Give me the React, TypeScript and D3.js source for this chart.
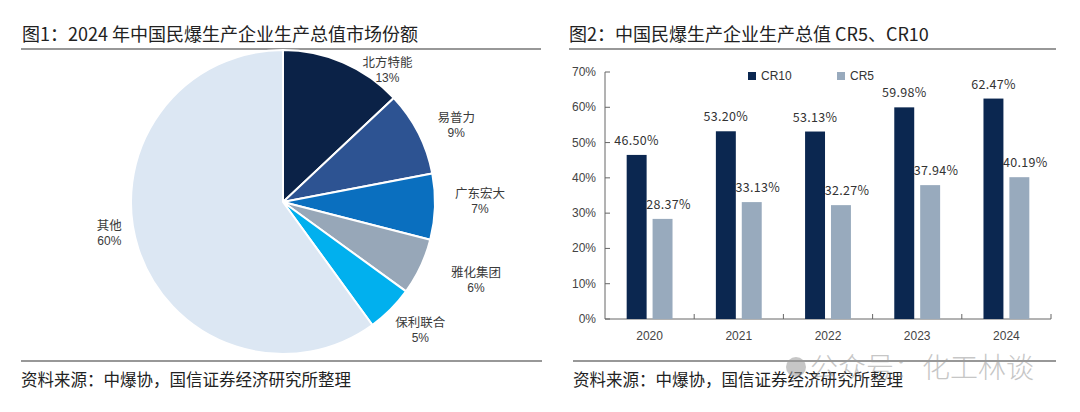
import React from "react";
import * as d3 from "d3";

// ---- Data ----
const pieNames = ["北方特能", "易普力", "广东宏大", "雅化集团", "保利联合", "其他"];
const pieValues = [13, 9, 7, 6, 5, 60];
const pieColors = ["#0b2247", "#2d5392", "#0a6fbf", "#97a7b8", "#01b0ee", "#dce7f3"];
// label nudges (style only)
const pieLabelNudge: [number, number][] = [[29, 39], [4, 6], [7, -10], [21, -6], [3, -9], [7, -31]];

const years = ["2020", "2021", "2022", "2023", "2024"];
const cr10 = [46.5, 53.2, 53.13, 59.98, 62.47];
const cr5 = [28.37, 33.13, 32.27, 37.94, 40.19];
const seriesNames = ["CR10", "CR5"];
const seriesColors = ["#0b2750", "#98aabd"];
const yTicks = [0, 10, 20, 30, 40, 50, 60, 70];

const title1 = "图1：2024 年中国民爆生产企业生产总值市场份额";
const title2 = "图2：中国民爆生产企业生产总值 CR5、CR10";
const source = "资料来源：中爆协，国信证券经济研究所整理";

const CJK = "'Noto Sans CJK SC', 'Noto Sans', sans-serif";
const LAT = "'Liberation Sans', Arial, sans-serif";

export default function App() {
  // Pie
  const cx = 283, cy = 202, r = 152;
  const pie = d3.pie<number>().sort(null).value((d) => d).startAngle(0).endAngle(2 * Math.PI);
  const arcs = pie(pieValues);
  const arc = d3.arc<d3.PieArcDatum<number>>().innerRadius(0).outerRadius(r);
  const labelArc = d3.arc<d3.PieArcDatum<number>>().innerRadius(190).outerRadius(190);

  // Bars
  const x0 = d3.scaleBand<string>().domain(years).range([605, 1051]).paddingInner(0.486).paddingOuter(0.243);
  const x1 = d3.scaleBand<string>().domain(seriesNames).range([0, x0.bandwidth()]).paddingInner(0.23);
  const y = d3.scaleLinear().domain([0, 70]).range([319, 72]);
  const seriesData = [cr10, cr5];
  const step = x0.step();
  const xStart = 605;

  return (
    <svg width={1080} height={412} style={{ position: "absolute", left: 0, top: 0, background: "#fff" }}>
      {/* Titles */}
      <text x={22} y={41} fontFamily={CJK} fontSize={18} fill="#222">{title1}</text>
      <line x1={21} x2={541} y1={49} y2={49} stroke="#333" strokeWidth={1.2} />
      <text x={569} y={41} fontFamily={CJK} fontSize={18} fill="#222">{title2}</text>
      <line x1={569} x2={1056} y1={49} y2={49} stroke="#333" strokeWidth={1.2} />

      {/* Pie */}
      <g transform={`translate(${cx},${cy})`}>
        {arcs.map((a, i) => (
          <path key={i} d={arc(a) || ""} fill={pieColors[i]} stroke="#fff" strokeWidth={2} />
        ))}
        {arcs.map((a, i) => {
          const [lx, ly] = labelArc.centroid(a);
          const px = lx + pieLabelNudge[i][0];
          const py = ly + pieLabelNudge[i][1];
          return (
            <g key={"l" + i} fontFamily={CJK} fontSize={12.5} fill="#3a3a3a" textAnchor="middle">
              <text x={px} y={py}>{pieNames[i]}</text>
              <text x={px} y={py + 15} fontFamily={LAT} fontSize={12}>{pieValues[i]}%</text>
            </g>
          );
        })}
      </g>

      {/* Bar chart axes */}
      <line x1={605} x2={605} y1={y(70)} y2={y(0)} stroke="#666" strokeWidth={1} />
      <line x1={605} x2={1051} y1={y(0)} y2={y(0)} stroke="#666" strokeWidth={1} />
      {yTicks.map((t) => (
        <g key={t}>
          <line x1={605} x2={610} y1={y(t)} y2={y(t)} stroke="#666" />
          <text x={596} y={y(t) + 4} textAnchor="end" fontFamily={LAT} fontSize={12} fill="#444">{t}%</text>
        </g>
      ))}
      {years.map((yr, i) => (
        <g key={yr}>
          <line x1={xStart + step * (i + 1)} x2={xStart + step * (i + 1)} y1={y(0)} y2={y(0) - 5} stroke="#666" />
          <text x={(x0(yr) || 0) + x0.bandwidth() / 2} y={340} textAnchor="middle" fontFamily={LAT} fontSize={12} fill="#444">{yr}</text>
        </g>
      ))}

      {/* Bars */}
      {seriesData.map((vals, s) => (
        <g key={s}>
          {vals.map((v, i) => {
            const bx = (x0(years[i]) || 0) + (x1(seriesNames[s]) || 0);
            return (
              <g key={i}>
                <rect x={bx} y={y(v)} width={x1.bandwidth()} height={y(0) - y(v)} fill={seriesColors[s]} />
                <text x={bx + x1.bandwidth() / 2 + (s === 1 ? 6 : 0)} y={y(v) - 10} textAnchor="middle" fontFamily={CJK} fontSize={12.5} fill="#333" letterSpacing={0.3}>
                  {v.toFixed(2)}%
                </text>
              </g>
            );
          })}
        </g>
      ))}

      {/* Legend */}
      {seriesNames.map((n, i) => (
        <g key={n} transform={`translate(${748 + i * 89},72)`}>
          <rect x={0} y={0} width={8} height={8} fill={seriesColors[i]} />
          <text x={13} y={8} fontFamily={LAT} fontSize={12} fill="#333">{n}</text>
        </g>
      ))}

      {/* Footers */}
      <line x1={21} x2={542} y1={361} y2={361} stroke="#333" strokeWidth={1.2} />
      <line x1={573} x2={1056} y1={361} y2={361} stroke="#333" strokeWidth={1.2} />
      <text x={21} y={386} fontFamily={CJK} fontSize={16.5} fill="#222">{source}</text>
      <text x={573} y={386} fontFamily={CJK} fontSize={16.5} fill="#222">{source}</text>

      {/* Watermark */}
      <g opacity={0.55}>
        <circle cx={796} cy={367} r={10} fill="#999" />
        <text x={810} y={378} fontFamily={CJK} fontSize={28} fontWeight={300} fill="#999">公众号：化工林谈</text>
      </g>
    </svg>
  );
}
